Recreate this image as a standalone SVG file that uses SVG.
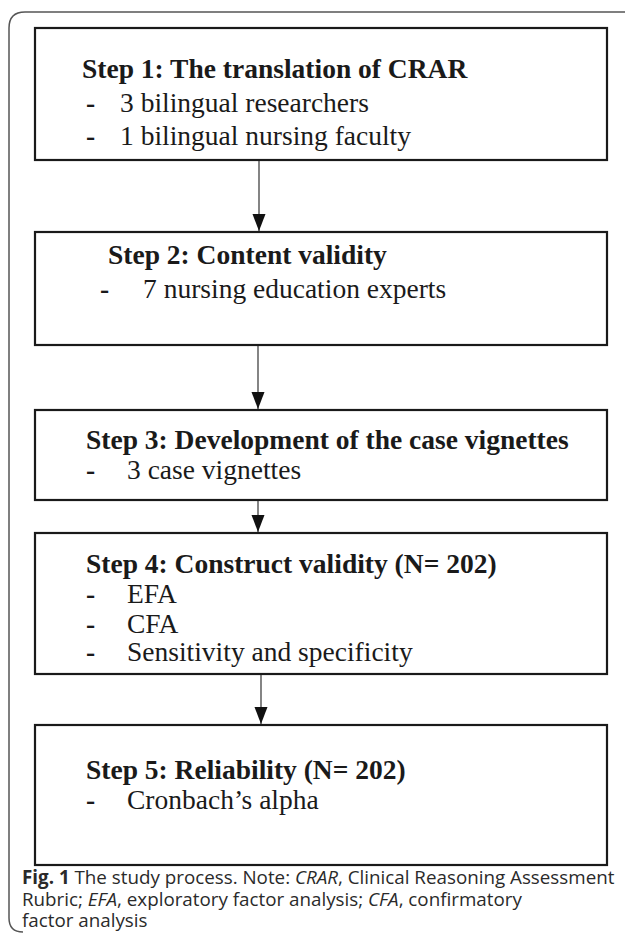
<svg xmlns="http://www.w3.org/2000/svg" width="625" height="934" viewBox="0 0 625 934">
<style>
.frame{fill:none;stroke:#555;stroke-width:1.5}
.box{fill:#fff;stroke:#1a1a1a;stroke-width:2.2}
.h{font-family:"Liberation Serif","Times New Roman",serif;font-weight:bold;font-size:27.5px;fill:#1a1a1a}
.b{font-family:"Liberation Serif","Times New Roman",serif;font-size:27.5px;fill:#1a1a1a}
.d{font-family:"Liberation Serif","Times New Roman",serif;font-weight:bold;font-size:27.5px;fill:#1a1a1a}
.edge{stroke:#333;stroke-width:1.2;fill:none;marker-end:url(#ah)}
.cap{font-family:"Open Sans","Noto Sans",sans-serif;font-size:18.8px;fill:#2a2a2a}
</style>
<defs>
<marker id="ah" viewBox="0 0 17 14" refX="17" refY="7" markerWidth="17" markerHeight="14" markerUnits="userSpaceOnUse" orient="auto">
<path d="M0,0.5 L17,7 L0,13.5 Z" fill="#111"/>
</marker>
</defs>
<rect width="625" height="934" fill="#fff"/>
<path class="frame" d="M640,12 H25 Q9,12 9,28 V918 Q9,932 23,932"/>
<g id="step1">
<rect class="box" x="35" y="28" width="572" height="132"/>
<text class="h" x="82" y="78">Step 1: The translation of CRAR</text>
<text class="d" x="86" y="112">-</text><text class="b" x="120" y="112">3 bilingual researchers</text>
<text class="d" x="86" y="145">-</text><text class="b" x="120" y="145">1 bilingual nursing faculty</text>
</g>
<g id="step2">
<rect class="box" x="35" y="232" width="572" height="113"/>
<text class="h" x="108" y="264">Step 2: Content validity</text>
<text class="d" x="100" y="298">-</text><text class="b" x="143" y="298">7 nursing education experts</text>
</g>
<g id="step3">
<rect class="box" x="35" y="410" width="572" height="90"/>
<text class="h" x="86" y="449">Step 3: Development of the case vignettes</text>
<text class="d" x="86" y="479">-</text><text class="b" x="127" y="479">3 case vignettes</text>
</g>
<g id="step4">
<rect class="box" x="35" y="533" width="572" height="141"/>
<text class="h" x="86" y="573">Step 4: Construct validity (N= 202)</text>
<text class="d" x="86" y="603">-</text><text class="b" x="127" y="603">EFA</text>
<text class="d" x="86" y="633">-</text><text class="b" x="127" y="633">CFA</text>
<text class="d" x="86" y="661">-</text><text class="b" x="127" y="661">Sensitivity and specificity</text>
</g>
<g id="step5">
<rect class="box" x="35" y="725" width="572" height="140"/>
<text class="h" x="86" y="779">Step 5: Reliability (N= 202)</text>
<text class="d" x="86" y="809">-</text><text class="b" x="127" y="809">Cronbach’s alpha</text>
</g>
<g id="connectors">
<line class="edge" x1="259" y1="161" x2="259" y2="231"/>
<line class="edge" x1="258" y1="346" x2="258" y2="409"/>
<line class="edge" x1="258" y1="501" x2="258" y2="532"/>
<line class="edge" x1="261" y1="675" x2="261" y2="724"/>
</g>
<g id="caption">
<text class="cap" x="22" y="884"><tspan font-weight="bold">Fig. 1</tspan> The study process. Note: <tspan font-style="italic">CRAR</tspan>, Clinical Reasoning Assessment</text>
<text class="cap" x="22" y="906">Rubric; <tspan font-style="italic">EFA</tspan>, exploratory factor analysis; <tspan font-style="italic">CFA</tspan>, confirmatory</text>
<text class="cap" x="22" y="927">factor analysis</text>
</g>
</svg>
